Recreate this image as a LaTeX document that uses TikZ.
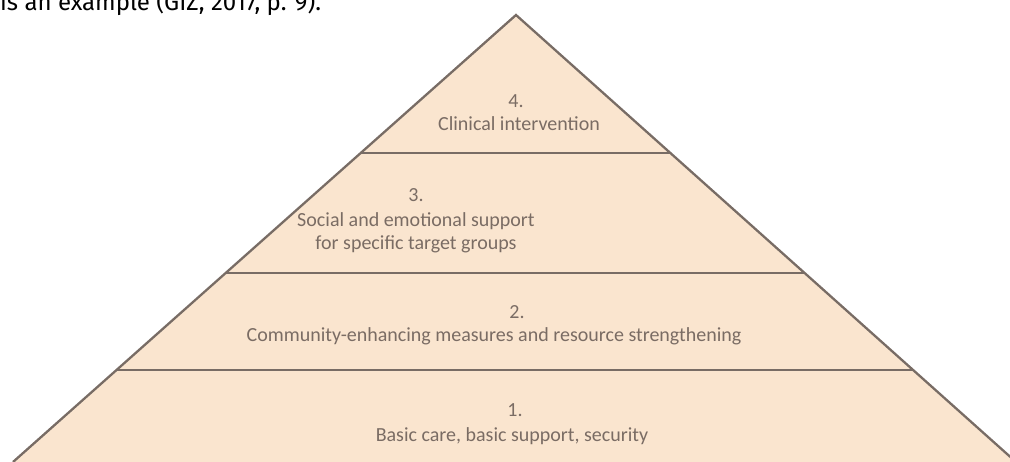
\documentclass[tikz,border=0pt]{standalone}
\usepackage{fontspec}
\setmainfont{Carlito}
\newfontfamily\capfont{Fira Sans}
\definecolor{pyrfill}{HTML}{FAE5CF}
\definecolor{pyrline}{HTML}{786C65}
\definecolor{pyrtext}{HTML}{7A6C64}
\begin{document}
\begin{tikzpicture}[x=1pt,y=-1pt,
  edge/.style={draw=pyrline,line width=2.3pt,line join=miter},
  lbl/.style={anchor=base,inner sep=0pt,text=pyrtext,font=\fontsize{20}{24}\selectfont},
  captxt/.style={anchor=base west,inner sep=0pt,text=black,font=\capfont\fontsize{24}{28}\selectfont}]
\useasboundingbox (0,0) rectangle (1010,462);
\clip (0,0) rectangle (1010,462);
\coordinate (apex) at (516,15);
\coordinate (bl) at (13,462);
\coordinate (br) at (1016,462);
\coordinate (l4) at (360.75,153);
\coordinate (r4) at (670.3,153);
\coordinate (l3) at (225.75,273);
\coordinate (r3) at (804.4,273);
\coordinate (l2) at (116.6,370);
\coordinate (r2) at (912.9,370);
\fill[pyrfill] (bl) -- (apex) -- (br) -- cycle;
\draw[edge] (bl) -- (apex) -- (br);
\draw[edge] (l4) -- (r4);
\draw[edge] (l3) -- (r3);
\draw[edge] (l2) -- (r2);
\node[captxt] (cap) at (0,11) {is an example (GIZ, 2017, p. 9).};
\node[lbl] (n4) at (516,108) {4.};
\node[lbl] (t4) at (519,131) {Clinical intervention};
\node[lbl] (n3) at (416,202) {3.};
\node[lbl] (t3a) at (416,227) {Social and emotional support};
\node[lbl] (t3b) at (416,250) {for specific target groups};
\node[lbl] (n2) at (517,319) {2.};
\node[lbl] (t2) at (494,342) {Community-enhancing measures and resource strengthening};
\node[lbl] (n1) at (515,417) {1.};
\node[lbl] (t1) at (512,442) {Basic care, basic support, security};
\end{tikzpicture}
\end{document}
